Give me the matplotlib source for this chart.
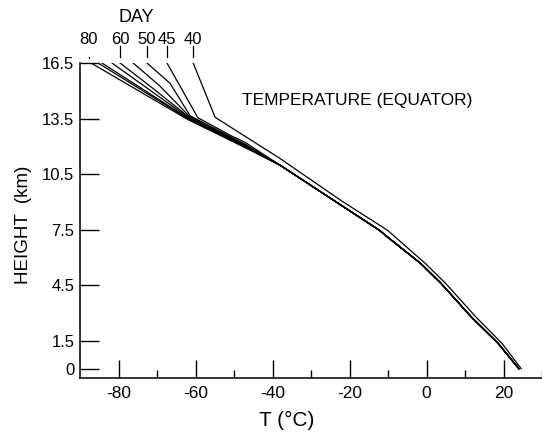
import numpy as np
import matplotlib
matplotlib.use("Agg")
import matplotlib.pyplot as plt

plt.rcParams['font.family'] = ['Liberation Sans', 'DejaVu Sans']
plt.rcParams['axes.unicode_minus'] = False

# lower line (days 45-80 merge into it below ~11 km)
low_T = [-38.0, -22.0, -12.2, -10.8, -1.5, 3.8, 11.6, 18.6, 24.0]
low_z = [10.98, 8.80, 7.47, 7.22, 5.68, 4.6, 2.8, 1.37, 0.0]

# upper parts of each day's profile (temperature degC, height km)
day80_T = [-88.5, -86.9, -62.0, -47.0]
day80_z = [16.5, 16.47, 13.45, 11.92]
day75_T = [-85.3, -61.9, -47.0]
day75_z = [16.5, 13.48, 11.95]
day70_T = [-84.3, -61.8, -47.0]
day70_z = [16.5, 13.5, 11.97]
day65_T = [-81.7, -61.7, -47.0]
day65_z = [16.5, 13.53, 12.0]
day60_T = [-79.6, -71.3, -61.6, -47.0]
day60_z = [16.5, 15.17, 13.56, 12.03]
day55_T = [-76.2, -69.2, -61.5, -47.0]
day55_z = [16.5, 15.25, 13.6, 12.06]
day50_T = [-72.6, -66.6, -61.4, -47.0]
day50_z = [16.5, 15.4, 13.65, 12.1]
day45_T = [-67.4, -59.4, -51.0, -47.0]
day45_z = [16.5, 13.55, 12.6, 12.2]

# day 40 stays the warmer (upper) line all the way down
day40_T = [-60.6, -54.9, -38.0, -22.0, -11.6, -10.0, -0.3, 5.0, 12.8, 19.6, 24.6]
day40_z = [16.5, 13.57, 11.34, 9.05, 7.67, 7.45, 5.68, 4.6, 2.8, 1.37, 0.0]

day_labels = ['80', '60', '50', '45', '40']
day_label_T = [-87.7, -79.6, -72.6, -67.4, -60.6]

xticks_major = [-80, -60, -40, -20, 0, 20]
xticks_minor = [-70, -50, -30, -10, 10, 30]
yticks = [0, 1.5, 4.5, 7.5, 10.5, 13.5, 16.5]
ytick_labels = ['0', '1.5', '4.5', '7.5', '10.5', '13.5', '16.5']

fig = plt.figure(figsize=(5.42, 4.42), dpi=100)
ax = fig.add_axes([80/542, 64/442, 462/542, 315/442])

uppers = [(day80_T, day80_z), (day75_T, day75_z), (day70_T, day70_z),
          (day65_T, day65_z), (day60_T, day60_z), (day55_T, day55_z),
          (day50_T, day50_z), (day45_T, day45_z)]
for T, z in uppers:
    ax.plot(T + low_T, z + low_z, color='black', lw=0.9)
ax.plot(day40_T, day40_z, color='black', lw=0.9)

ax.set_xlim(-90, 30)
ax.set_ylim(-0.5, 16.5)

ax.spines['top'].set_visible(False)
ax.spines['right'].set_visible(False)
ax.spines['left'].set_linewidth(1.1)
ax.spines['bottom'].set_linewidth(1.1)

ax.set_xticks(xticks_major)
ax.set_xticks(xticks_minor, minor=True)
ax.set_xticklabels([str(v) for v in xticks_major])
ax.set_yticks(yticks)
ax.set_yticklabels(ytick_labels)
ax.tick_params(axis='x', which='major', direction='in', length=13, width=1.0, pad=6, labelsize=12.5)
ax.tick_params(axis='x', which='minor', direction='in', length=6, width=1.0)
ax.tick_params(axis='y', direction='in', length=14, width=1.0, pad=4, labelsize=12)

ax.set_xlabel('T (°C)', fontsize=15)
ax.xaxis.set_label_coords(0.448, -0.105)
ax.set_ylabel('HEIGHT  (km)', fontsize=13.5)
ax.yaxis.set_label_coords(-0.104, 0.486)

ax.text(-18, 14.5, 'TEMPERATURE (EQUATOR)', fontsize=12.5, ha='center', va='center')

# day markers above the plot
for lab, t in zip(day_labels, day_label_T):
    if lab == '80':
        ax.plot([t, t], [16.78, 16.85], color='black', lw=0.9, clip_on=False)
    else:
        ax.plot([t, t], [16.8, 17.4], color='black', lw=0.9, clip_on=False)
    ax.text(t, 17.77, lab, fontsize=12, ha='center', va='center')
ax.text(-75.3, 18.95, 'DAY', fontsize=13, ha='center', va='center')

fig.savefig('out.png', dpi=100)
